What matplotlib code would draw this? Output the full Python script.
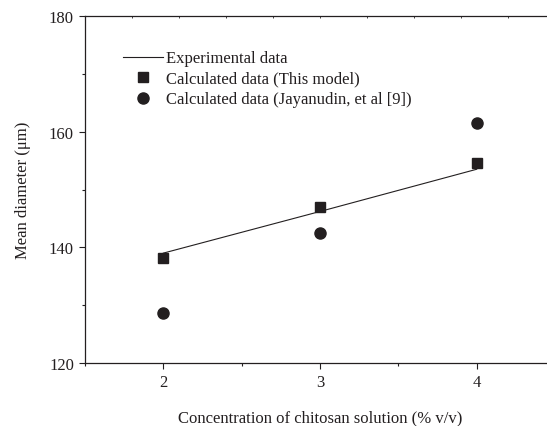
import numpy as np
import matplotlib
matplotlib.use("Agg")
import matplotlib.pyplot as plt
from matplotlib.ticker import FixedLocator, MultipleLocator

# data
concentration = [2, 3, 4]
experimental = [139.0, 146.2, 153.5]
this_model = [138.2, 147.0, 154.5]
jayanudin = [128.6, 142.4, 161.5]

plt.rcParams["font.family"] = ["Liberation Serif", "DejaVu Serif"]

ink = "#231f20"

fig = plt.figure(figsize=(5.47, 4.27), dpi=100)
# axes runs off the right edge like the cropped original
ax = fig.add_axes([85 / 547, 63 / 427, 470 / 547, 347 / 427])

ax.plot(concentration, experimental, color=ink, lw=0.8,
        label="Experimental data")
ax.plot(concentration, this_model, ls="none", marker="s", ms=7.5,
        color=ink, label="Calculated data (This model)")
ax.plot(concentration, jayanudin, ls="none", marker="o", ms=8,
        color=ink, label="Calculated data (Jayanudin, et al [9])")

ax.set_xlim(1.5, 4.5)
ax.set_ylim(120, 180)

ax.xaxis.set_major_locator(FixedLocator([2, 3, 4]))
ax.xaxis.set_minor_locator(FixedLocator([1.5, 2.5, 3.5, 4.5]))
ax.yaxis.set_major_locator(MultipleLocator(20))
ax.yaxis.set_minor_locator(MultipleLocator(10))

for side in ["top", "bottom", "left", "right"]:
    ax.spines[side].set_linewidth(0.9)
    ax.spines[side].set_color(ink)
ax.spines["right"].set_visible(False)

ax.tick_params(axis="both", which="major", direction="out", length=4.5,
               width=0.8, color=ink, labelsize=12, labelcolor=ink, pad=3.5)
ax.tick_params(axis="both", which="minor", direction="out", length=2.5,
               width=0.8, color=ink)

# small inward ticks on the top spine
top = ax.secondary_xaxis("top")
top.set_xticks(np.arange(1.5, 4.51, 0.3))
top.tick_params(direction="in", length=1.5, width=0.6, color=ink,
                labeltop=False)
top.spines["top"].set_visible(False)

ax.set_xlabel("Concentration of chitosan solution (% v/v)", fontsize=12,
              color=ink, labelpad=14)
ax.set_ylabel("Mean diameter (\u03bcm)", fontsize=12, color=ink,
              labelpad=13)

ax.legend(loc="upper left", bbox_to_anchor=(0.081, 0.901), frameon=False,
          fontsize=12, handlelength=2.4, handletextpad=0.2,
          labelspacing=0.27, borderpad=0, borderaxespad=0,
          labelcolor=ink)

fig.savefig("out.png", dpi=100)
